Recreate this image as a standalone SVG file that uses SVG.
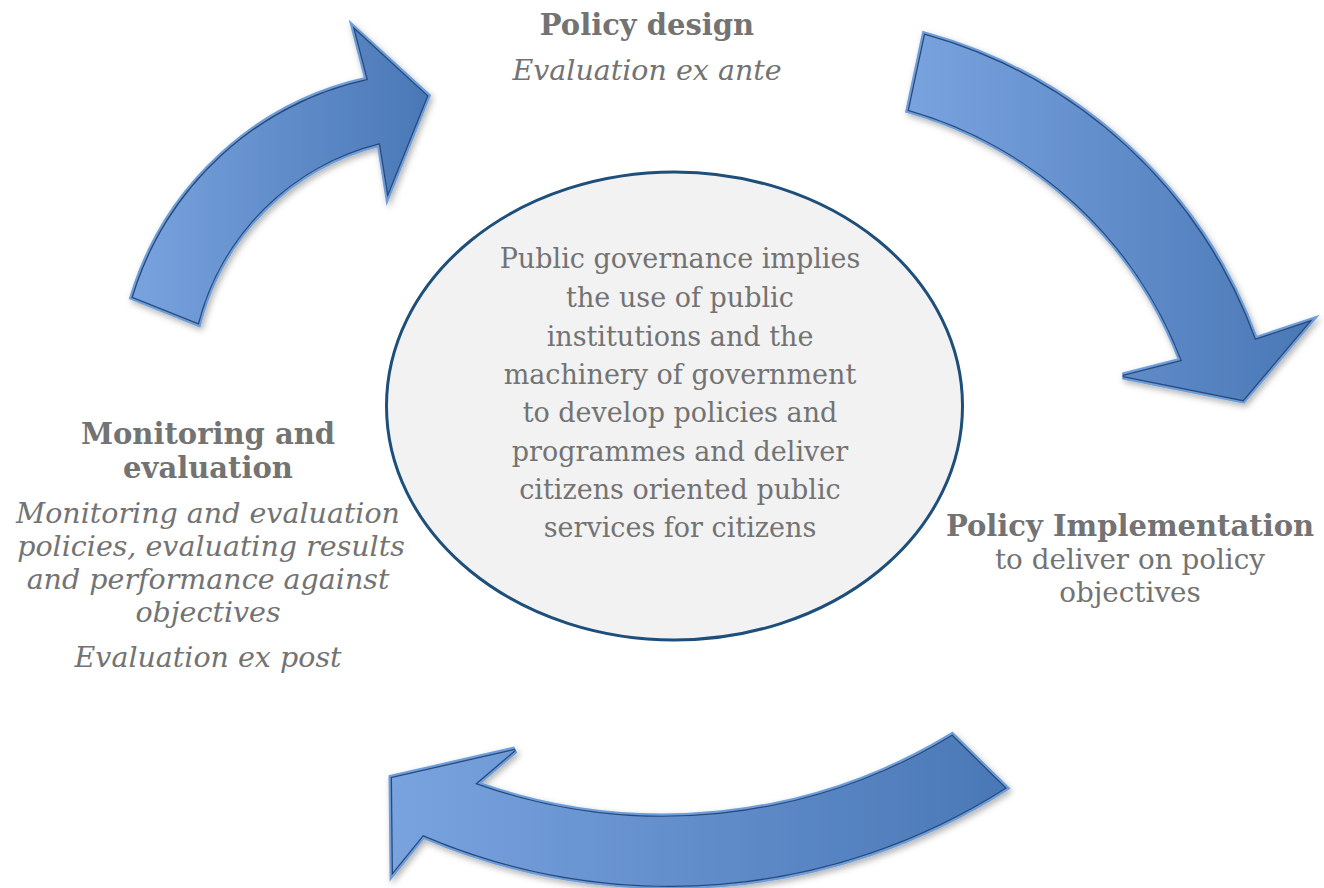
<svg xmlns="http://www.w3.org/2000/svg" width="1324" height="888" viewBox="0 0 1324 888">
<style>
.t{font-family:"DejaVu Serif","Liberation Serif",serif;fill:#737373;text-anchor:middle}
.b{font-weight:bold;font-size:29px}
.r{font-size:27px}
.s{font-size:27.8px}
.i{font-style:italic;font-size:28.5px}
.rim{fill:none;stroke:#6d9edb;stroke-width:7;stroke-linejoin:miter}
.dark{fill:none;stroke:#2a4a78;stroke-width:2.6;stroke-linejoin:miter}
.body{fill:url(#ag);stroke:none}
</style>
<defs>
<linearGradient id="ag" x1="0" y1="0" x2="1" y2="0">
<stop offset="0" stop-color="#78a3df"/>
<stop offset="1" stop-color="#4a78b6"/>
</linearGradient>
<filter id="sh" x="-10%" y="-10%" width="130%" height="130%">
<feDropShadow dx="2" dy="3" stdDeviation="3" flood-color="#000" flood-opacity="0.3"/>
</filter>
<path id="a1" d="M133,297 A315,315 0 0 1 368,80 L355,30 L427,96 L388,193 L380,143 A250,250 0 0 0 198,323 Z"/>
<path id="a2" d="M925,35 A489,489 0 0 1 1255,340 L1309,322 L1243,400 L1123,376 L1182,361 A414,414 0 0 0 909,110 Z"/>
<path id="a3" d="M1005,788 A624,624 0 0 1 423,835 L393,872 L392,778 L515,750 L475,784 A556,556 0 0 0 952,736 Z"/>
</defs>
<rect width="1324" height="888" fill="#ffffff"/>

<g id="connectors">
<g id="arrow-design" filter="url(#sh)">
<use href="#a1" class="rim"/><use href="#a1" class="dark"/><use href="#a1" class="body"/>
</g>
<g id="arrow-implementation" filter="url(#sh)">
<use href="#a2" class="rim"/><use href="#a2" class="dark"/><use href="#a2" class="body"/>
</g>
<g id="arrow-monitoring" filter="url(#sh)">
<use href="#a3" class="rim"/><use href="#a3" class="dark"/><use href="#a3" class="body"/>
</g>
</g>

<g id="center">
<ellipse cx="674.5" cy="406" rx="288" ry="234" fill="#f2f2f2" stroke="#1d4f7a" stroke-width="3"/>
<text class="t r" x="680" y="268">Public governance implies</text>
<text class="t r" x="680" y="307">the use of public</text>
<text class="t r" x="680" y="346">institutions and the</text>
<text class="t r" x="680" y="384">machinery of government</text>
<text class="t r" x="680" y="422">to develop policies and</text>
<text class="t r" x="680" y="461">programmes and deliver</text>
<text class="t r" x="680" y="499">citizens oriented public</text>
<text class="t r" x="680" y="537">services for citizens</text>
</g>

<g id="policy-design">
<text class="t b" x="647" y="35">Policy design</text>
<text class="t i" x="647" y="80">Evaluation ex ante</text>
</g>

<g id="policy-implementation">
<text class="t b" x="1130" y="536">Policy Implementation</text>
<text class="t s" x="1130" y="569">to deliver on policy</text>
<text class="t s" x="1130" y="602">objectives</text>
</g>

<g id="monitoring">
<text class="t b" x="208" y="444">Monitoring and</text>
<text class="t b" x="208" y="478">evaluation</text>
<text class="t i" x="208" y="523">Monitoring and evaluation</text>
<text class="t i" x="211" y="556">policies, evaluating results</text>
<text class="t i" x="208" y="589">and performance against</text>
<text class="t i" x="208" y="622">objectives</text>
<text class="t i" x="208" y="667">Evaluation ex post</text>
</g>
</svg>
